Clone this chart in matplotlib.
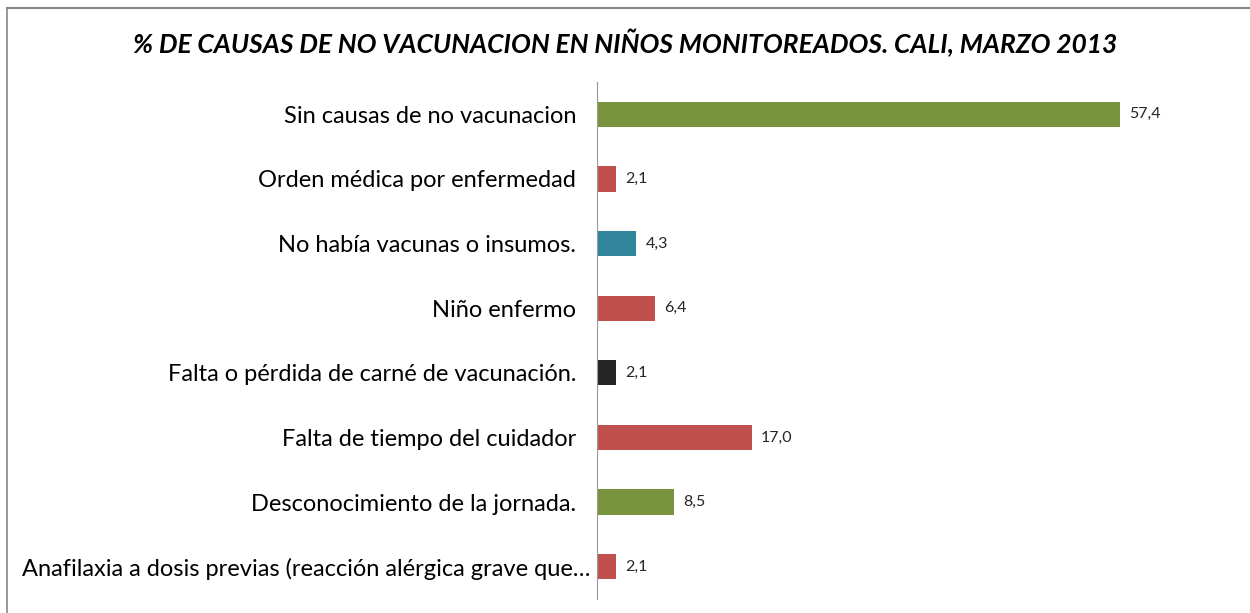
import matplotlib.pyplot as plt
from matplotlib.lines import Line2D
from matplotlib.transforms import ScaledTranslation

causas = [
    "Sin causas de no vacunacion",
    "Orden médica por enfermedad",
    "No había vacunas o insumos.",
    "Niño enfermo",
    "Falta o pérdida de carné de vacunación.",
    "Falta de tiempo del cuidador",
    "Desconocimiento de la jornada.",
    "Anafilaxia a dosis previas (reacción alérgica grave que…",
]
porcentajes = [57.4, 2.1, 4.3, 6.4, 2.1, 17.0, 8.5, 2.1]
colores = ["#77933C", "#C0504D", "#31859C", "#C0504D",
           "#262626", "#C0504D", "#77933C", "#C0504D"]

plt.rcParams['font.family'] = ['Lato', 'DejaVu Sans']


def main():
    fig = plt.figure(figsize=(12.5, 6.13), dpi=100)
    ax = fig.add_axes([597 / 1250, 1 - 599 / 613, 638 / 1250, 517 / 613])

    pos = list(range(len(causas)))
    ax.barh(pos, porcentajes, height=0.39, color=colores)
    ax.set_ylim(len(causas) - 0.5, -0.5)
    ax.set_xlim(0, 70)

    for p, v in zip(pos, porcentajes):
        ax.text(v + 1.0, p, f"{v:.1f}".replace(".", ","), va='center',
                ha='left', fontsize=11.5, color='#262626')

    ax.set_yticks(pos)
    ax.set_yticklabels(causas, fontsize=17, color='black')
    ax.tick_params(axis='y', length=0, pad=15)
    # the truncated last label sticks out a bit further right, like Excel
    last = ax.get_yticklabels()[-1]
    last.set_transform(last.get_transform() +
                       ScaledTranslation(14 / 100, 0, fig.dpi_scale_trans))
    ax.set_xticks([])
    for s in ['top', 'right', 'bottom']:
        ax.spines[s].set_visible(False)
    ax.spines['left'].set_color('#999999')

    fig.text(0.5, 1 - 43 / 613,
             "% DE CAUSAS DE NO VACUNACION EN NIÑOS MONITOREADOS. CALI, MARZO 2013",
             ha='center', va='center', fontsize=19, fontweight='bold',
             fontstyle='italic', color='black')

    # grey frame of the original chart area
    fig.add_artist(Line2D([7 / 1250, 1], [1 - 7.5 / 613, 1 - 7.5 / 613],
                          color='#888888', lw=1.5))
    fig.add_artist(Line2D([7 / 1250, 7 / 1250], [0, 1 - 7.5 / 613],
                          color='#888888', lw=1.2))

    fig.savefig("out.png", dpi=100)


if __name__ == "__main__":
    main()
